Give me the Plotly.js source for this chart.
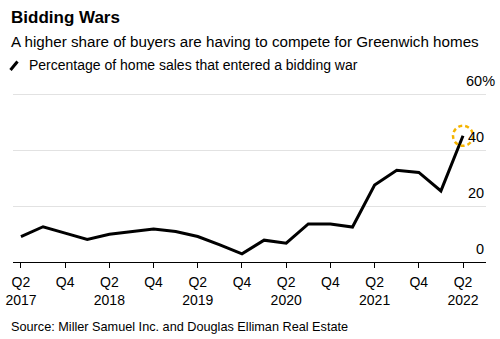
<!DOCTYPE html>
<html>
<head>
<meta charset="utf-8">
<script src="https://cdn.plot.ly/plotly-3.0.1.min.js"></script>
<style>html,body{margin:0;padding:0;background:#fff;}#chart{width:500px;height:339px;}</style>
</head>
<body>
<div id="chart"></div>
<script>
const quarters = ["Q2 2017","Q3 2017","Q4 2017","Q1 2018","Q2 2018","Q3 2018","Q4 2018","Q1 2019","Q2 2019","Q3 2019","Q4 2019","Q1 2020","Q2 2020","Q3 2020","Q4 2020","Q1 2021","Q2 2021","Q3 2021","Q4 2021","Q1 2022","Q2 2022"];
const bidShare = [9.1,12.6,10.3,8.1,9.9,10.9,11.8,10.9,9.1,6.1,2.9,7.8,6.7,13.6,13.6,12.5,27.5,32.8,32.0,25.4,45.1];
const xTickVals = ["Q2 2017","Q4 2017","Q2 2018","Q4 2018","Q2 2019","Q4 2019","Q2 2020","Q4 2020","Q2 2021","Q4 2021","Q2 2022"];
const xTickText = ["Q2<br>2017","Q4","Q2<br>2018","Q4","Q2<br>2019","Q4","Q2<br>2020","Q4","Q2<br>2021","Q4","Q2<br>2022"];
const yTickVals = [0,20,40,60];
const yTickText = ["0","20","40","60%"];

const FONT = "'Liberation Sans', Arial, sans-serif";
const W = 500, H = 339, ML = 13, MR = 14, MT = 93, MB = 77;
const PW = W - ML - MR, PH = H - MT - MB;
const px = x => (x - ML) / PW;
const py = y => (H - MB - y) / PH;

const annotations = [
  {text: "<b>Bidding Wars</b>", x: px(9), y: py(18), font: {size: 17, color: "#000"}},
  {text: "A higher share of buyers are having to compete for Greenwich homes", x: px(9), y: py(41), font: {size: 15.2, color: "#000"}},
  {text: "Percentage of home sales that entered a bidding war", x: px(27), y: py(65), font: {size: 14, color: "#000"}},
  {text: "Source: Miller Samuel Inc. and Douglas Elliman Real Estate", x: px(9), y: py(327), font: {size: 12.7, color: "#000"}}
].map(a => Object.assign({xref: "paper", yref: "paper", xanchor: "left", yanchor: "middle", showarrow: false}, a));

yTickVals.forEach((v, i) => {
  annotations.push({
    xref: "paper", yref: "y", x: 1, y: v, xanchor: "right", yanchor: "middle",
    yshift: 13, xshift: yTickText[i].endsWith("%") ? 11 : 0,
    text: yTickText[i], showarrow: false, font: {size: 14.5, color: "#000", family: FONT}
  });
});

const shapes = [
  {type: "line", xref: "paper", yref: "paper", x0: px(10.5), y0: py(70), x1: px(17.5), y1: py(61.5),
   line: {color: "#000", width: 3}},
  {type: "circle", xref: "x", yref: "y", xsizemode: "pixel", ysizemode: "pixel",
   xanchor: quarters[quarters.length - 1], yanchor: bidShare[bidShare.length - 1],
   x0: -10, x1: 10, y0: -10, y1: 10,
   line: {color: "#F5B400", width: 2.5, dash: "4px,3px"}}
];

const trace = {
  x: quarters, y: bidShare, type: "scatter", mode: "lines",
  line: {color: "#000", width: 3}, hoverinfo: "skip", cliponaxis: false
};

const layout = {
  width: W, height: H,
  margin: {l: ML, r: MR, t: MT, b: MB, pad: 0},
  paper_bgcolor: "#fff", plot_bgcolor: "#fff",
  font: {family: FONT, color: "#000"},
  showlegend: false,
  xaxis: {
    type: "category", categoryorder: "array", categoryarray: quarters,
    range: [-0.36, 21.04],
    tickmode: "array", tickvals: xTickVals, ticktext: xTickText,
    ticks: "outside", ticklen: 5, tickwidth: 1, tickcolor: "#000",
    showline: true, linecolor: "#000", linewidth: 1,
    showgrid: false, zeroline: false,
    ticklabelstandoff: 2,
    tickfont: {size: 14, color: "#000", family: FONT}
  },
  yaxis: {
    range: [0, 60.4], tickmode: "array", tickvals: yTickVals,
    showticklabels: false, showgrid: true, gridcolor: "#e2e2e2", gridwidth: 1,
    zeroline: false, showline: false
  },
  annotations: annotations,
  shapes: shapes
};

Plotly.newPlot("chart", [trace], layout, {staticPlot: true, displayModeBar: false});
</script>
</body>
</html>
